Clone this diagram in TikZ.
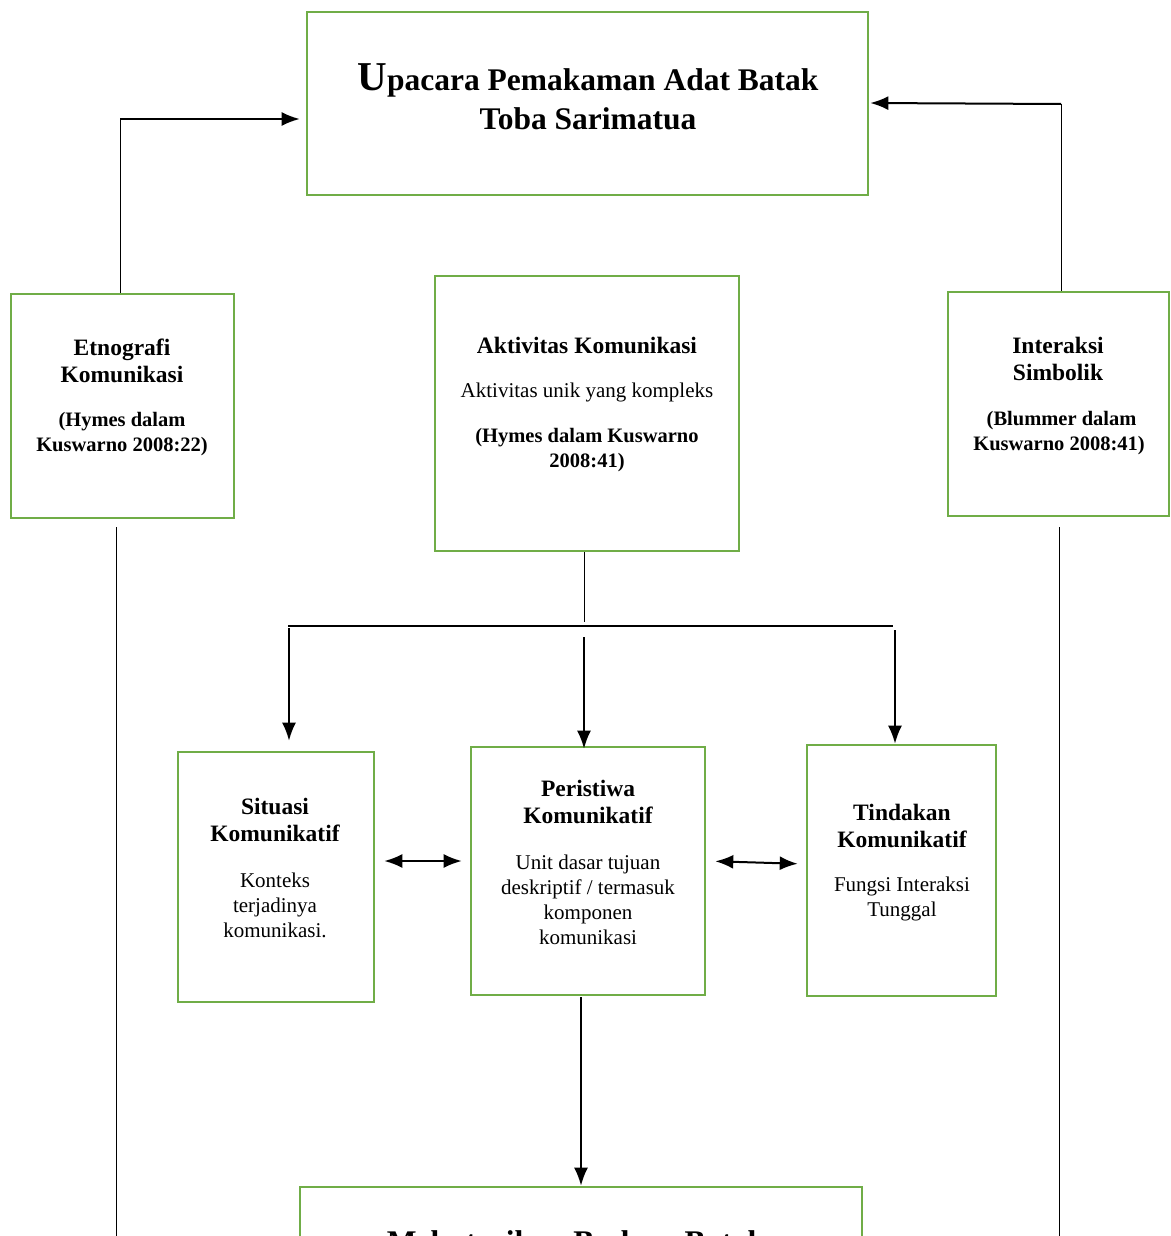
\documentclass[tikz,border=0pt]{standalone}
\usepackage{fontspec}
\setmainfont{Liberation Serif}
\usetikzlibrary{arrows.meta}
\definecolor{boxgreen}{RGB}{112,173,71}
\tikzset{
	box/.style={draw=boxgreen,line width=2.6pt,inner sep=0pt},
	head/.style={align=center,font=\bfseries\fontsize{23.5}{27}\selectfont},
	refer/.style={align=center,font=\bfseries\fontsize{20.5}{25}\selectfont},
	plain/.style={align=center,font=\fontsize{21}{25}\selectfont},
	title/.style={align=center,font=\bfseries\fontsize{31.5}{39}\selectfont}
}
\begin{document}
\begin{tikzpicture}[>={Latex[length=18pt,width=14pt]},x=1pt,y=-1pt]
	\useasboundingbox (0,0) rectangle (1170,1236);
	\begin{scope}
		\node[box,minimum width=561,minimum height=183] (top) at (587.5,103.5) {};
		\node[title] (topT) at (588,96.5)
			{{\fontsize{41}{39}\selectfont U}pacara Pemakaman Adat Batak\\Toba Sarimatua};
		\node[box,minimum width=223,minimum height=224] (etno) at (122.5,406) {};
		\node[head] (etnoH) at (122,360.5) {Etnografi\\Komunikasi};
		\node[refer] (etnoR) at (122,434.5) {(Hymes dalam\\Kuswarno 2008:22)};
		\node[box,minimum width=221,minimum height=224] (inter) at (1058.5,404) {};
		\node[head] (interH) at (1058,358.5) {Interaksi\\Simbolik};
		\node[refer] (interR) at (1059,433) {\ (Blummer dalam\\Kuswarno 2008:41)};
		\node[box,minimum width=304,minimum height=275] (akt) at (587,413.5) {};
		\node[head] (aktH) at (587,345) {Aktivitas Komunikasi};
		\node[plain] (aktP) at (587,392) {Aktivitas unik yang kompleks};
		\node[refer] (aktR) at (587,450.5) {(Hymes dalam Kuswarno\\2008:41)};
	\end{scope}
	\begin{scope}
		\node[box,minimum width=196,minimum height=250] (sit) at (276,877) {};
		\node[head] (sitH) at (275,819.5) {Situasi\\Komunikatif};
		\node[plain] (sitP) at (275,905) {Konteks\\terjadinya\\komunikasi.};
		\node[box,minimum width=234,minimum height=248] (per) at (588,871) {};
		\node[head] (perH) at (588,801.5) {Peristiwa\\Komunikatif};
		\node[plain] (perP) at (588,899.5) {Unit dasar tujuan\\deskriptif / termasuk\\komponen\\komunikasi};
		\node[box,minimum width=189,minimum height=251] (tin) at (901.5,870.5) {};
		\node[head] (tinH) at (902,825.5) {Tindakan\\Komunikatif};
		\node[plain] (tinP) at (902,898.5) {Fungsi Interaksi\\Tunggal};
		\node[box,minimum width=562,minimum height=183] (bot) at (581,1278.5) {};
		\node[title] (botT) at (576,1245) {Melestarikan Budaya Batak};
	\end{scope}
	% zijlijnen naar de titel
	\begin{scope}
		\coordinate (lcorner) at (120,119);
		\coordinate (rcorner) at (1061,104);
		\draw[line width=1pt]
			(etno.north -| lcorner) -- (lcorner)
			(inter.north -| rcorner) -- (rcorner)
		;
		\draw[->,line width=2pt,shorten >=6]
			(lcorner) -- (top.west |- lcorner)
		;
		\draw[->,line width=2pt,shorten >=1]
			(rcorner) -- ([yshift=1]top.east |- rcorner)
		;
		\coordinate (ltop) at (116,527);
		\coordinate (lbot) at (116,1240);
		\coordinate (rtop) at (1059,527);
		\coordinate (rbot) at (1059,1240);
		\draw[line width=1pt]
			(ltop) -- (lbot)
			(rtop) -- (rbot)
		;
	\end{scope}
	% verdeling onder aktivitas
	\begin{scope}
		\coordinate (hub) at (584,626);
		\coordinate (bl) at (289,626);
		\coordinate (br) at (895,626);
		\draw[line width=1pt] (akt.south -| hub) -- ([yshift=4]hub);
		\draw[line width=1.4pt] (288,626) -- (893,626);
		\draw[->,line width=2pt,shorten <=2,shorten >=10] (bl) -- (bl |- sit.north);
		\draw[->,line width=2pt,shorten <=11,shorten >=-3] (hub) -- (hub |- per.north);
		\draw[->,line width=2pt,shorten <=4] (br) -- (br |- tin.north);
	\end{scope}
	\begin{scope}
		\coordinate (lmid) at (0,861);
		\coordinate (rmid) at (0,864);
		\draw[<->,line width=2pt,shorten <=9,shorten >=8]
			(sit.east |- lmid) -- (per.west |- lmid)
		;
		\draw[<->,line width=2pt,shorten <=9,shorten >=8]
			(per.east |- lmid) -- (tin.west |- rmid)
		;
		\draw[->,line width=2pt,shorten <=1]
			(bot.north |- per.south) -- (bot.north)
		;
	\end{scope}
\end{tikzpicture}
\end{document}
